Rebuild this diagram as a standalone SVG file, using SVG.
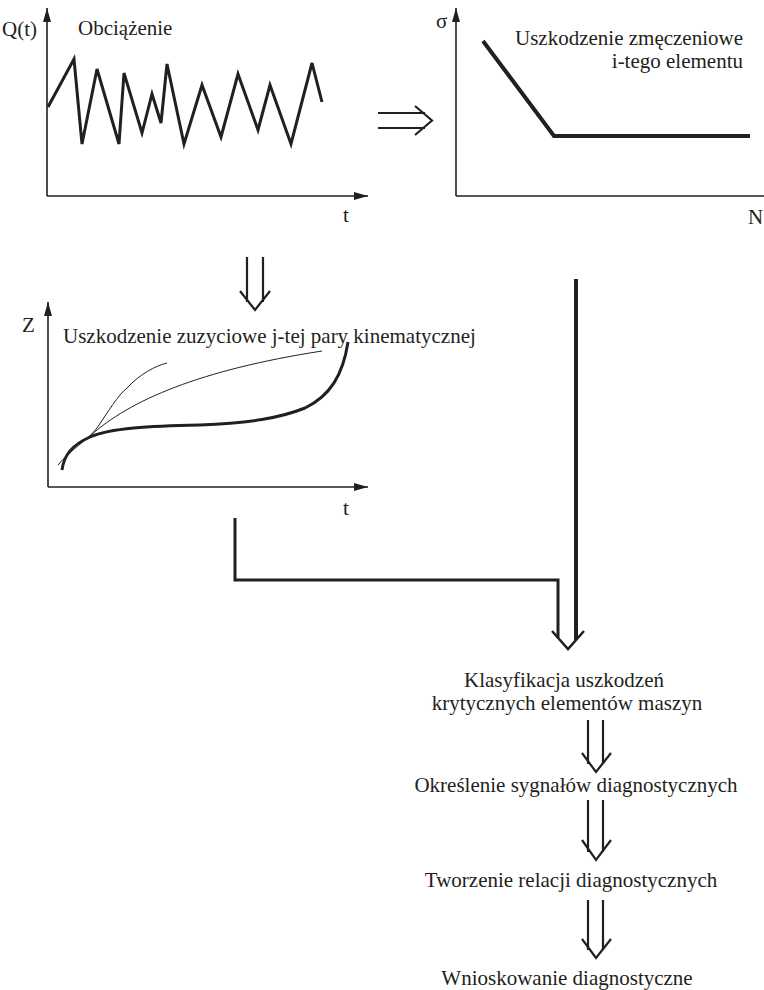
<svg xmlns="http://www.w3.org/2000/svg" width="764" height="990" viewBox="0 0 764 990">
<style>
text{font-family:"Liberation Serif","Times New Roman",Times,"DejaVu Serif",serif;font-size:21px;fill:#231f20}
.ax{stroke:#231f20;stroke-width:1.6;fill:none}
.thick{stroke:#231f20;stroke-width:3;fill:none;stroke-linejoin:miter}
.thin{stroke:#231f20;stroke-width:1;fill:none}
.dbl{stroke:#231f20;stroke-width:2.2;fill:none}
.mid{text-anchor:middle}
</style>
<defs>
<marker id="ah2" viewBox="0 0 14 8" refX="14" refY="4" markerWidth="14" markerHeight="8" orient="auto" markerUnits="userSpaceOnUse">
<path d="M0,0 L14,4 L0,8 Z" fill="#231f20"/>
</marker>
</defs>

<g id="chart-load">
<line class="ax" x1="47" y1="196" x2="47" y2="8" marker-end="url(#ah2)"/>
<line class="ax" x1="47" y1="196" x2="368" y2="196" marker-end="url(#ah2)"/>
<text x="2" y="36">Q(t)</text>
<text x="78" y="35">Obciążenie</text>
<text x="343" y="222">t</text>
<polyline class="thick" points="48,107 74,59 82,144 97,69 119,144 124,73 142,133 152,94 161,123 167,64 184,144 202,85 221,137 238,74 258,130 270,85 291,144 312,63 322,102"/>
</g>

<g id="chart-fatigue">
<line class="ax" x1="456" y1="196" x2="456" y2="8" marker-end="url(#ah2)"/>
<line class="ax" x1="456" y1="196" x2="764" y2="196"/>
<text x="436" y="28">σ</text>
<text x="748" y="224">N</text>
<text x="743" y="45" text-anchor="end">Uszkodzenie zmęczeniowe</text>
<text x="743" y="68" text-anchor="end">i-tego elementu</text>
<polyline points="483,41 554,136 750,136" fill="none" stroke="#231f20" stroke-width="4"/>
</g>

<g id="chart-wear">
<line class="ax" x1="48" y1="487" x2="48" y2="302" marker-end="url(#ah2)"/>
<line class="ax" x1="48" y1="487" x2="368" y2="487" marker-end="url(#ah2)"/>
<text x="22" y="332">Z</text>
<text x="343" y="515">t</text>
<text x="63" y="343">Uszkodzenie zuzyciowe j-tej pary kinematycznej</text>
<path class="thin" d="M58,465 C70,450 88,440 97,428 C108,412 118,395 127,388 C140,374 155,366 167,363"/>
<path class="thin" d="M90,436 C130,400 200,370 322,351"/>
<path d="M62,470 C64,455 72,445 90,437 C110,428 150,426 200,425 C250,423 280,418 305,408 C330,396 343,375 348,342" fill="none" stroke="#231f20" stroke-width="3"/>
</g>

<g id="n-klasyfikacja">
<text class="mid" x="564" y="687">Klasyfikacja uszkodzeń</text>
<text class="mid" x="567" y="710">krytycznych elementów maszyn</text>
</g>
<g id="n-okreslenie">
<text class="mid" x="576" y="792">Określenie sygnałów diagnostycznych</text>
</g>
<g id="n-tworzenie">
<text class="mid" x="571" y="887">Tworzenie relacji diagnostycznych</text>
</g>
<g id="n-wnioskowanie">
<text class="mid" x="567" y="985">Wnioskowanie diagnostyczne</text>
</g>

<g id="connectors">
<line class="dbl" x1="378" y1="113" x2="425" y2="113"/>
<line class="dbl" x1="378" y1="128" x2="425" y2="128"/>
<polyline class="dbl" points="415,106 432,120.5 415,135"/>
<line class="dbl" x1="247" y1="257" x2="247" y2="302"/>
<line class="dbl" x1="263" y1="257" x2="263" y2="302"/>
<polyline class="dbl" points="240,291 255,310 270,291"/>
<polyline points="235,518 235,580 558,580 558,638" fill="none" stroke="#231f20" stroke-width="3"/>
<line x1="576" y1="279" x2="576" y2="640" stroke="#231f20" stroke-width="4"/>
<polyline points="552,631 568,649 584,631" fill="none" stroke="#231f20" stroke-width="2.5"/>
<line class="dbl" x1="588" y1="720" x2="588" y2="764"/>
<line class="dbl" x1="603" y1="720" x2="603" y2="764"/>
<polyline class="dbl" points="582,753 596,772 611,753"/>
<line class="dbl" x1="588" y1="800" x2="588" y2="852"/>
<line class="dbl" x1="603" y1="800" x2="603" y2="852"/>
<polyline class="dbl" points="582,840 596,860 611,840"/>
<line class="dbl" x1="588" y1="900" x2="588" y2="950"/>
<line class="dbl" x1="603" y1="900" x2="603" y2="950"/>
<polyline class="dbl" points="582,939 596,958 611,939"/>
</g>
</svg>
